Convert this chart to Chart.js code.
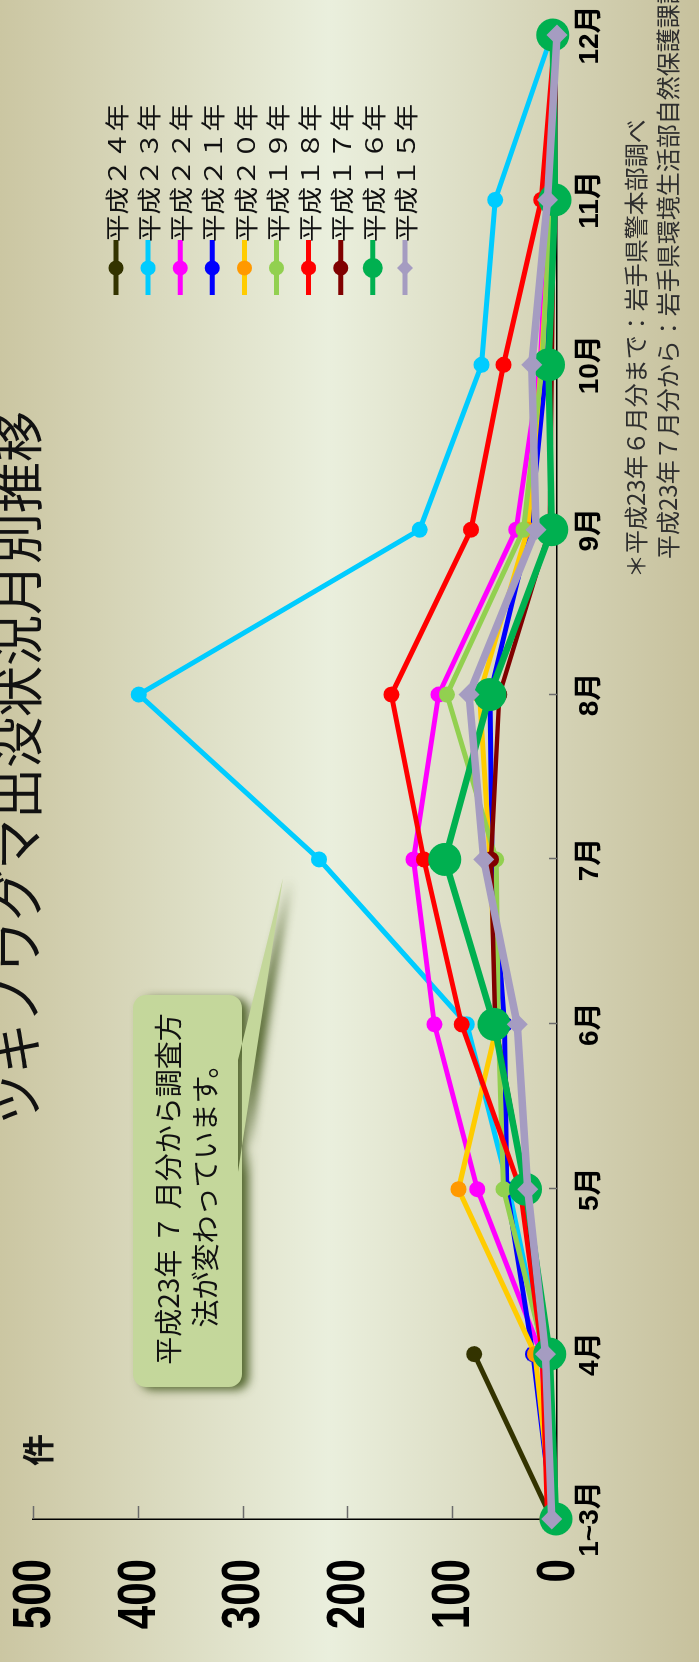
<!DOCTYPE html>
<html lang="ja">
<head>
<meta charset="utf-8">
<title>ツキノワグマ出没状況月別推移</title>
<script src="https://cdn.jsdelivr.net/npm/chart.js@4.4.1/dist/chart.umd.min.js"></script>
<style>
    html, body { margin: 0; padding: 0; width: 699px; height: 1662px; overflow: hidden; background: #d9d7bb; }
    /* the chart is laid out landscape and turned a quarter turn to fit the page */
    #wrap { position: absolute; left: 0; top: 0; width: 1662px; height: 699px;
            transform-origin: 0 0; transform: translate(0, 1662px) rotate(-90deg); }
</style>
</head>
<body>
<div id="wrap"><canvas id="bear-graph" width="1662" height="699"></canvas></div>
<script>
const months = ['1~3月', '4月', '5月', '6月', '7月', '8月', '9月', '10月', '11月', '12月'];

const h24 = [5, 79, null, null, null, null, null, null, null, null];
const h23 = [3, 13, 46, 86, 227, 399, 131, 72, 59, 5];
const h22 = [3, 15, 76, 117, 137, 113, 39, 16, 8, 3];
const h21 = [4, 23, 48, 50, 62, 64, 26, 10, 5, 2];
const h20 = [4, 21, 94, 57, 64, 74, 28, 15, 5, 2];
const h19 = [3, 12, 51, 56, 58, 105, 32, 14, 6, 2];
const h18 = [9, 14, 35, 91, 127, 158, 82, 51, 15, 2];
const h17 = [2, 12, 30, 59, 63, 55, 7, 5, 3, 1];
const h16 = [1, 7, 30, 60, 107, 64, 5, 8, 2, 4];
const h15 = [5, 11, 28, 38, 70, 84, 20, 24, 9, 0];

const seriesNames = ['平成２４年', '平成２３年', '平成２２年', '平成２１年', '平成２０年',
                     '平成１９年', '平成１８年', '平成１７年', '平成１６年', '平成１５年'];
const seriesData = [h24, h23, h22, h21, h20, h19, h18, h17, h16, h15];

const lineColors   = ['#333300', '#00CCFF', '#FF00FF', '#0000FF', '#FFCC00', '#92D050', '#FF0000', '#800000', '#00B050', '#A59CC1'];
const markerColors = ['#333300', '#00CCFF', '#FF00FF', '#0000FF', '#FF9900', '#92D050', '#FF0000', '#800000', '#00B050', '#A59CC1'];
const lineWidths   = [5, 5, 5, 5, 5, 5, 5, 4.5, 6.5, 7.5];
const markerSizes  = [8, 8, 8, 8, 8, 8, 8, 8, 16.5, 10.5];
const markerShapes = ['circle', 'circle', 'circle', 'circle', 'circle', 'circle', 'circle', 'circle', 'circle', 'rectRot'];

const chartTitle = 'ツキノワグマ出没状況月別推移';
const unitLabel = '件';
const sourceNotes = ['＊平成23年６月分まで：岩手県警本部調べ', '平成23年７月分から：岩手県環境生活部自然保護課調べ'];
const calloutLines = ['平成23年 ７ 月分から調査方', '法が変わっています。'];

const jp = '"Noto Sans CJK JP", "Noto Sans", sans-serif';

let datasets = seriesData.map((vals, i) => ({
    label: seriesNames[i],
    data: vals,
    borderColor: lineColors[i],
    backgroundColor: markerColors[i],
    borderWidth: lineWidths[i],
    pointRadius: markerSizes[i],
    pointStyle: markerShapes[i],
    pointBackgroundColor: markerColors[i],
    pointBorderColor: markerColors[i],
    pointBorderWidth: 0,
    tension: 0,
    clip: false,
    // later years in the list sit on top
    order: seriesData.length - 1 - i
}));

// soft khaki band, lightest a little above the middle
const backdrop = {
    id: 'backdrop',
    beforeDraw(chart) {
        const ctx = chart.ctx;
        const g = ctx.createLinearGradient(0, 0, 0, chart.height);
        g.addColorStop(0, '#CBC6A2');
        g.addColorStop(0.47, '#EAEFDD');
        g.addColorStop(1, '#C7C19D');
        ctx.save();
        ctx.fillStyle = g;
        ctx.fillRect(0, 0, chart.width, chart.height);
        ctx.restore();
    }
};

// tick marks point into the plot area; value labels are set narrow
const axisDetails = {
    id: 'axisDetails',
    beforeDatasetsDraw(chart) {
        const {ctx, chartArea, scales: {x, y}} = chart;
        ctx.save();
        ctx.strokeStyle = '#6b6b6b';
        ctx.lineWidth = 1.5;
        ctx.beginPath();
        y.ticks.forEach((t, i) => {
            const py = Math.round(y.getPixelForTick(i)) + 0.5;
            ctx.moveTo(chartArea.left, py);
            ctx.lineTo(chartArea.left + 13, py);
        });
        x.ticks.forEach((t, i) => {
            const px = Math.round(x.getPixelForTick(i)) + 0.5;
            ctx.moveTo(px, chartArea.bottom);
            ctx.lineTo(px, chartArea.bottom - 8);
        });
        ctx.stroke();

        ctx.fillStyle = '#000';
        ctx.font = 'bold 54px "Liberation Sans", Arial, sans-serif';
        ctx.textAlign = 'right';
        ctx.textBaseline = 'middle';
        y.ticks.forEach((t, i) => {
            ctx.save();
            ctx.translate(chartArea.left - 40, y.getPixelForTick(i) + 2);
            ctx.scale(0.78, 1);
            ctx.fillText(String(t.value), 0, 0);
            ctx.restore();
        });
        ctx.restore();
    }
};

const notes = {
    id: 'notes',
    afterDraw(chart) {
        const ctx = chart.ctx;
        ctx.save();

        // title, running off the top edge
        ctx.fillStyle = '#111';
        ctx.textAlign = 'center';
        ctx.textBaseline = 'middle';
        ctx.font = '51px ' + jp;
        ctx.fillText(chartTitle, 894, 18);

        // unit
        ctx.font = 'bold 32px ' + jp;
        ctx.fillText(unitLabel, 212, 38);

        // legend: line + marker, then the year set a little wide
        ctx.textAlign = 'left';
        ctx.font = '24px ' + jp;
        chart.data.datasets.forEach((ds, i) => {
            const ly = 116 + i * 32.1;
            ctx.strokeStyle = ds.borderColor;
            ctx.lineWidth = 5;
            ctx.beginPath();
            ctx.moveTo(1367, ly);
            ctx.lineTo(1422, ly);
            ctx.stroke();
            ctx.fillStyle = ds.pointBackgroundColor;
            ctx.strokeStyle = ds.pointBackgroundColor;
            const r = ds.pointStyle === 'rectRot' ? 8 : (ds.pointRadius > 10 ? 10 : 7.5);
            Chart.helpers.drawPoint(ctx, {pointStyle: ds.pointStyle, radius: r, rotation: 0, borderWidth: 0}, 1394, ly);
            ctx.save();
            ctx.translate(1420, ly + 1);
            ctx.scale(1.15, 1);
            ctx.fillStyle = '#111';
            ctx.fillText(ds.label, 0, 0);
            ctx.restore();
        });

        // sources
        ctx.fillStyle = '#2e2e2e';
        ctx.font = '24px ' + jp;
        ctx.fillText(sourceNotes[0], 1084, 636);
        ctx.fillText(sourceNotes[1], 1103, 668);

        // callout about the survey change
        ctx.save();
        ctx.shadowColor = 'rgba(72, 92, 34, 0.9)';
        ctx.shadowBlur = 10;
        ctx.shadowOffsetX = -3;
        ctx.shadowOffsetY = 7;
        ctx.fillStyle = '#C4D79B';
        ctx.beginPath();
        ctx.roundRect(275, 133, 392, 109, 13);
        ctx.moveTo(490, 238);
        ctx.lineTo(784, 283);
        ctx.lineTo(602, 238);
        ctx.closePath();
        ctx.fill();
        ctx.restore();

        ctx.fillStyle = '#111';
        ctx.textAlign = 'center';
        ctx.font = '28px ' + jp;
        ctx.fillText(calloutLines[0], 473, 168);
        ctx.fillText(calloutLines[1], 473, 205);

        ctx.restore();
    }
};

let bearChart = new Chart(document.getElementById('bear-graph').getContext('2d'), {
    type: 'line',
    data: {
        labels: months,
        datasets: datasets
    },
    options: {
        responsive: false,
        animation: false,
        events: [],
        layout: {
            padding: {top: 33, right: 35, left: 0, bottom: 0}
        },
        plugins: {
            legend: {display: false},
            tooltip: {enabled: false}
        },
        scales: {
            x: {
                grid: {display: false, drawTicks: false},
                border: {display: true, color: '#000', width: 1.5},
                ticks: {
                    color: '#000',
                    font: {family: '"Liberation Sans", ' + jp, size: 28, weight: 'bold'},
                    padding: 16,
                    maxRotation: 0,
                    autoSkip: false
                },
                afterFit: s => {
                    s.height = 142;
                    s.paddingLeft = 0;
                    s.paddingRight = 0;
                }
            },
            y: {
                min: 0,
                max: 500,
                grid: {display: false, drawTicks: false},
                border: {display: true, color: '#000', width: 1.5},
                ticks: {stepSize: 100, display: false},
                afterFit: s => {
                    s.width = 143;
                    s.paddingTop = 0;
                    s.paddingBottom = 0;
                }
            }
        }
    },
    plugins: [backdrop, axisDetails, notes]
});
</script>
</body>
</html>
